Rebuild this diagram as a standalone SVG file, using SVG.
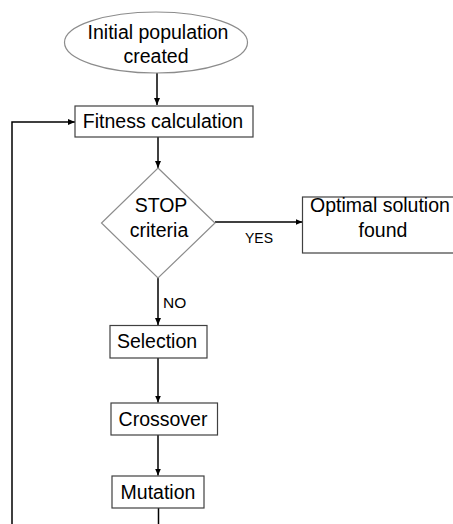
<svg xmlns="http://www.w3.org/2000/svg" width="453" height="524" viewBox="0 0 453 524">
<defs>
<marker id="ah" markerWidth="7" markerHeight="6" refX="7" refY="3" orient="auto" markerUnits="userSpaceOnUse">
<path d="M0,0 L7,3 L0,6 Z" fill="#000"/>
</marker>
<style>
.box{fill:#fff;stroke:#404040;stroke-width:1.2}
.shape{fill:#fff;stroke:#8c8c8c;stroke-width:1.2}
.t{font-family:"Liberation Sans",Arial,sans-serif;font-size:19.5px;fill:#000;text-anchor:middle}
.s{font-family:"Liberation Sans",Arial,sans-serif;font-size:14px;fill:#000}
.c{fill:none;stroke:#000;stroke-width:1.5}
</style>
</defs>
<rect width="453" height="524" fill="#fff"/>
<g id="connectors">
<line class="c" x1="157" y1="73" x2="157" y2="105" marker-end="url(#ah)"/>
<line class="c" x1="158" y1="137" x2="158" y2="168" marker-end="url(#ah)"/>
<line class="c" x1="215" y1="222" x2="302.5" y2="222" marker-end="url(#ah)"/>
<line class="c" x1="158" y1="278" x2="158" y2="325" marker-end="url(#ah)"/>
<line class="c" x1="158" y1="358" x2="158" y2="402.5" marker-end="url(#ah)"/>
<line class="c" x1="158" y1="435" x2="158" y2="475.5" marker-end="url(#ah)"/>
<line class="c" x1="158.5" y1="508" x2="158.5" y2="524"/>
<polyline class="c" points="12,524 12,122 75,122" stroke-width="2" marker-end="url(#ah)"/>
<text class="s" x="245" y="243">YES</text>
<text class="s" x="163" y="308" style="font-size:15.5px">NO</text>
</g>
<g id="initial">
<ellipse class="shape" cx="156" cy="42.5" rx="91.5" ry="30.5"/>
<text class="t" x="158" y="39">Initial population</text>
<text class="t" x="156" y="63">created</text>
</g>
<g id="fitness">
<rect class="box" x="75" y="106" width="178" height="31"/>
<text class="t" x="163" y="128">Fitness calculation</text>
</g>
<g id="stop">
<polygon class="shape" points="158,168 215,223 158,278 101.5,223"/>
<text class="t" x="161" y="212">STOP</text>
<text class="t" x="159" y="237">criteria</text>
</g>
<g id="optimal">
<rect class="box" x="302.5" y="197" width="160" height="56"/>
<text class="t" x="380" y="212">Optimal solution</text>
<text class="t" x="383" y="237">found</text>
</g>
<g id="selection">
<rect class="box" x="110" y="325.5" width="97" height="32.5"/>
<text class="t" x="157" y="348">Selection</text>
</g>
<g id="crossover">
<rect class="box" x="111" y="403" width="106.5" height="32"/>
<text class="t" x="163" y="425.5">Crossover</text>
</g>
<g id="mutation">
<rect class="box" x="112" y="476" width="92" height="32"/>
<text class="t" x="158" y="499">Mutation</text>
</g>
</svg>
